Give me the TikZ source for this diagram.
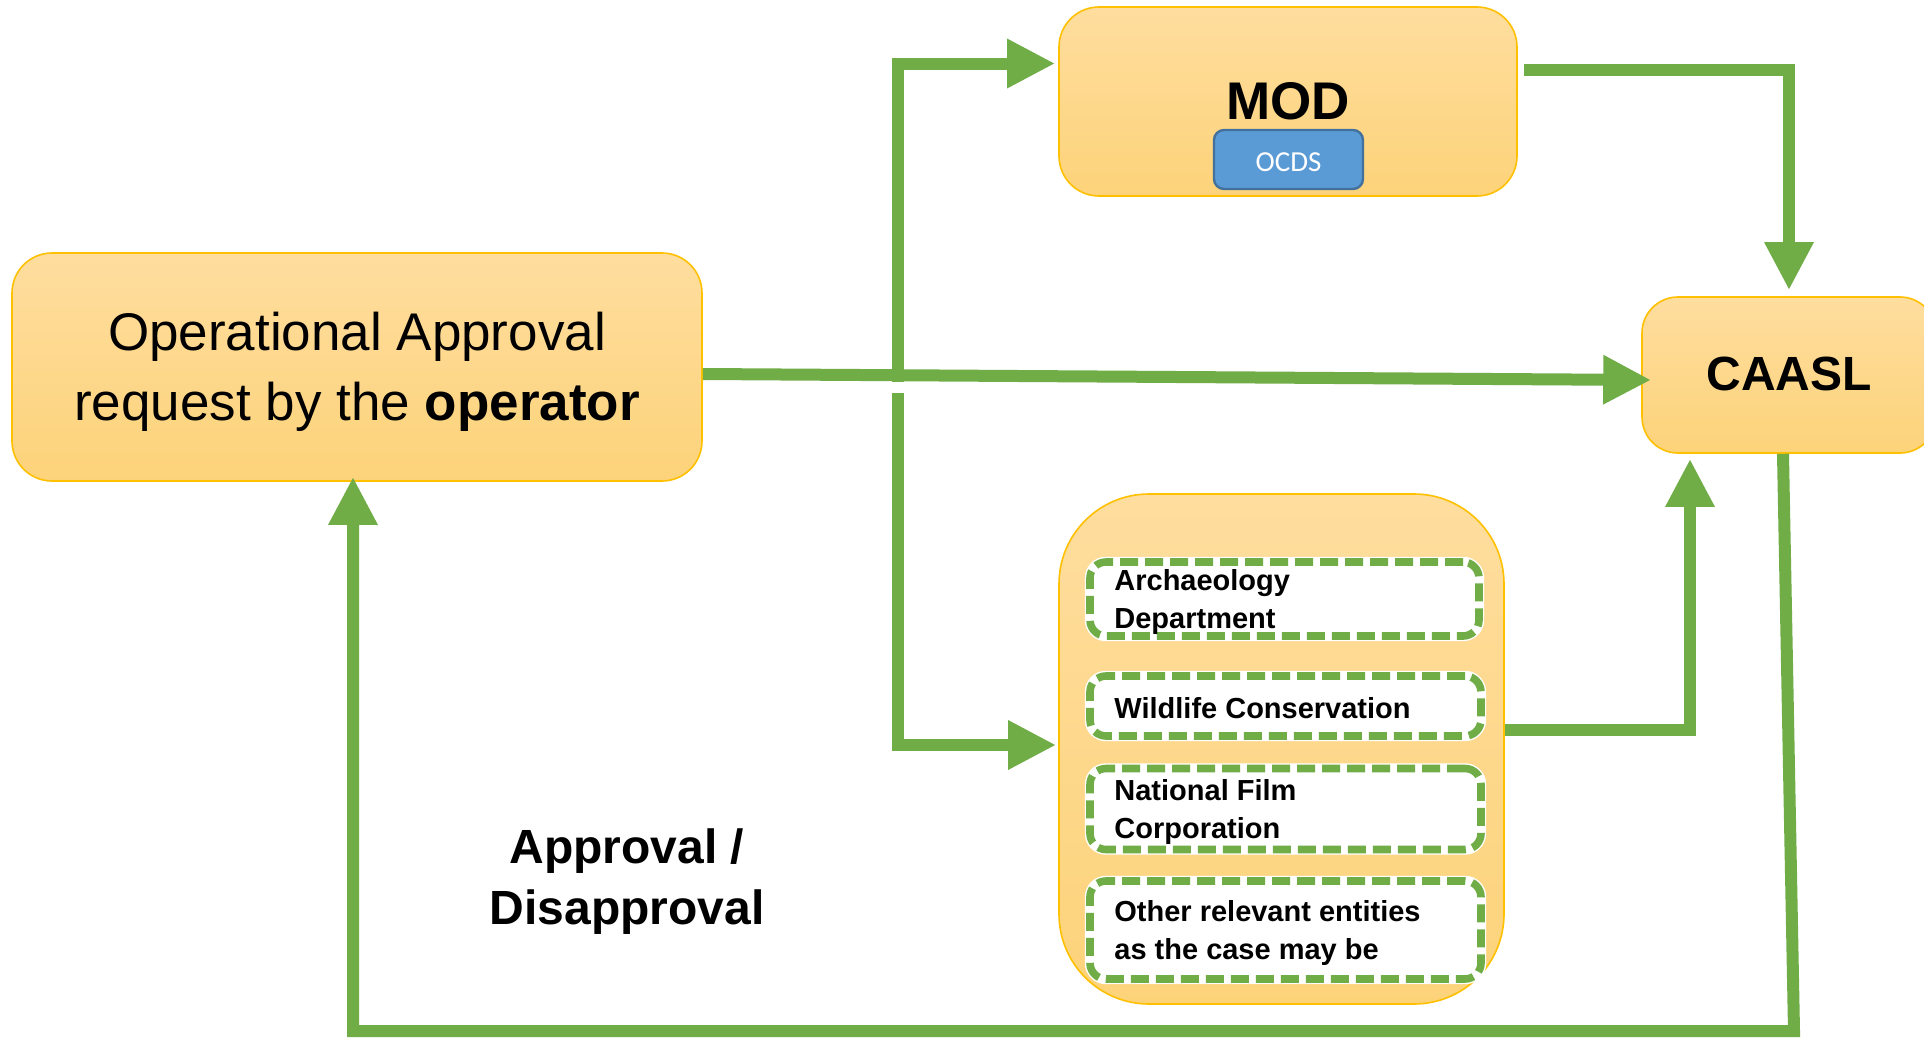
\documentclass[tikz,border=0pt]{standalone}
\usepackage{fontspec}
\setmainfont{Liberation Sans}
\newfontfamily\calibrifont{Carlito}
\usetikzlibrary{arrows.meta,calc}
\definecolor{gr}{HTML}{70AD47}
\definecolor{gold}{HTML}{FFC000}
\definecolor{btop}{HTML}{FEDD9E}
\definecolor{bbot}{HTML}{FDD37A}
\definecolor{bluef}{HTML}{5B9BD5}
\definecolor{blued}{HTML}{41719C}
\begin{document}
\begin{tikzpicture}[x=0.5pt,y=-0.5pt,
  orangebox/.style={draw=gold, line width=0.8pt, top color=btop, bottom color=bbot, inner sep=0pt, align=center},
  entity/.style={draw=gr, fill=white, line width=3.8pt, dash pattern=on 9pt off 3.5pt, rounded corners=8pt,
     preaction={draw=white, line width=5.2pt, solid}, inner sep=0pt},
  enttext/.style={anchor=west, align=left, inner sep=0pt, font=\bfseries\fontsize{14.5pt}{19pt}\selectfont},
  flow/.style={draw=gr, line width=6pt},
  arr/.style={flow, -{Triangle[length=24pt,width=23pt]}}]
\useasboundingbox (0,0) rectangle (1924,1039);
\fill[white] (0,0) rectangle (1924,1039);

% boxes
\node[orangebox, rounded corners=20pt, minimum width=345pt, minimum height=114pt] (op) at (357,367) {};
\node[align=center, inner sep=0pt, font=\fontsize{26.5pt}{35pt}\selectfont] (opt) at (357,372)
  {Operational Approval\\request by the \textbf{operator}};
\node[orangebox, rounded corners=20pt, minimum width=229pt, minimum height=94.5pt,
  font=\bfseries\fontsize{26.5pt}{32pt}\selectfont] (mod) at (1288,101.5) {MOD};
\node[draw=blued, fill=bluef, line width=1.2pt, rounded corners=5pt, minimum width=74.5pt, minimum height=29.5pt,
  inner sep=0pt] (ocds) at (1288.5,159.5) {};
\node[text=white, inner sep=0pt, font=\calibrifont\fontsize{14.5pt}{17pt}\selectfont] (ocdst) at (1288.5,162) {OCDS};
\node[orangebox, rounded corners=18pt, minimum width=147pt, minimum height=78pt] (caasl) at (1789,375) {};
\node[inner sep=0pt, font=\bfseries\fontsize{24pt}{29pt}\selectfont] (caaslt) at (1789,374) {CAASL};
\node[orangebox, rounded corners=45pt, minimum width=222.5pt, minimum height=255pt] (grp) at (1281.5,749) {};

% entity boxes
\node[entity, minimum width=194.5pt, minimum height=37pt] (arch) at (1284.5,599) {};
\node[entity, minimum width=195.5pt, minimum height=30pt] (wild) at (1285.5,706) {};
\node[entity, minimum width=195.5pt, minimum height=40.5pt] (film) at (1285.5,809) {};
\node[entity, minimum width=195.5pt, minimum height=49pt] (other) at (1285.5,930) {};
\node[enttext] (archt) at (1114,602) {Archaeology\\Department};
\node[enttext] (wildt) at (1114,708) {Wildlife Conservation};
\node[enttext] (filmt) at (1114,812) {National Film\\Corporation};
\node[enttext] (othert) at (1114,933) {Other relevant entities\\as the case may be};

% label
\node[align=center, inner sep=0pt, font=\bfseries\fontsize{24pt}{30.5pt}\selectfont] (appr) at (627,882)
  {Approval /\\Disapproval};

% connectors
\coordinate (upstart) at (898,382);
\coordinate (downstart) at (898,393);
\coordinate (wy) at (0,730);
\coordinate (br) at (1794,1031);
\coordinate (bl) at (353,1031);

\draw[arr] ([yshift=-3.5pt]op.east) -- ([yshift=-2.5pt, xshift=5pt]caasl.west);
\draw[arr] (upstart) |- ([yshift=19pt, xshift=-1.5pt]mod.west);
\draw[arr] (downstart) |- ([yshift=2pt, xshift=-1pt]grp.west);
\draw[arr] ([yshift=16pt, xshift=3pt]mod.east) -| ([yshift=3pt]caasl.north);
\draw[arr] (grp.east |- wy) -| ([xshift=-49.5pt, yshift=-2.5pt]caasl.south);
\draw[arr] ([xshift=-3pt]caasl.south) -- (br) -- (bl) -- ([xshift=-2pt, yshift=2.5pt]op.south);
\end{tikzpicture}
\end{document}
